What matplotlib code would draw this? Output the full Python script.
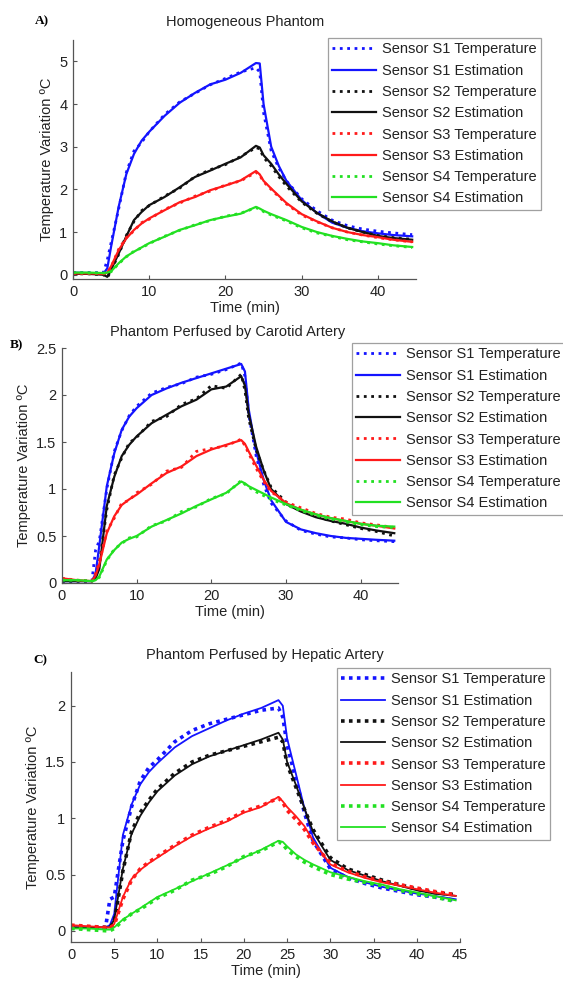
import matplotlib
matplotlib.use("Agg")
import matplotlib.pyplot as plt

plt.rcParams['font.family'] = ['Liberation Sans', 'DejaVu Sans']

# ---------------- data ----------------
t = [0, 2, 4, 4.5, 5, 6, 7, 8, 9, 10, 12, 14, 16, 18, 20, 22, 24, 24.5, 25, 26, 27, 28, 30, 32, 34, 36, 38, 40, 42, 44.5]

# Panel A: Homogeneous Phantom
a_s1_est = [0.05, 0.04, 0.03, 0.15, 0.66, 1.6, 2.36, 2.83, 3.14, 3.35, 3.72, 4.03, 4.26, 4.46, 4.57, 4.73, 4.96, 4.95, 4.0, 3.0, 2.55, 2.2, 1.75, 1.45, 1.22, 1.1, 1.02, 0.97, 0.93, 0.9]
a_s1_tmp = [0.05, 0.05, 0.05, 0.35, 0.75, 1.55, 2.4, 2.9, 3.1, 3.35, 3.75, 4.05, 4.25, 4.45, 4.6, 4.75, 4.85, 4.75, 3.8, 2.9, 2.5, 2.2, 1.78, 1.5, 1.28, 1.15, 1.07, 1.02, 0.98, 0.94]
a_s2_est = [0.02, 0.02, 0.0, -0.05, 0.12, 0.5, 0.9, 1.28, 1.47, 1.63, 1.82, 2.05, 2.29, 2.44, 2.6, 2.75, 3.02, 2.98, 2.8, 2.6, 2.35, 2.13, 1.72, 1.45, 1.25, 1.1, 1.0, 0.91, 0.86, 0.82]
a_s2_tmp = [0.02, 0.02, 0.0, -0.07, 0.1, 0.48, 0.92, 1.25, 1.5, 1.62, 1.84, 2.03, 2.3, 2.46, 2.58, 2.77, 2.98, 2.95, 2.75, 2.55, 2.3, 2.08, 1.7, 1.44, 1.24, 1.1, 1.0, 0.92, 0.87, 0.83]
a_s3_est = [0.03, 0.03, 0.02, 0.05, 0.2, 0.58, 0.85, 1.05, 1.2, 1.32, 1.51, 1.7, 1.82, 1.98, 2.09, 2.21, 2.43, 2.35, 2.2, 2.02, 1.85, 1.68, 1.42, 1.25, 1.1, 1.0, 0.93, 0.88, 0.82, 0.77]
a_s3_tmp = [0.03, 0.03, 0.02, 0.04, 0.18, 0.6, 0.87, 1.03, 1.22, 1.3, 1.53, 1.68, 1.84, 1.96, 2.1, 2.2, 2.4, 2.33, 2.18, 2.0, 1.83, 1.66, 1.4, 1.24, 1.1, 1.0, 0.93, 0.87, 0.82, 0.77]
a_s4_est = [0.05, 0.05, 0.04, 0.05, 0.08, 0.27, 0.43, 0.54, 0.64, 0.74, 0.89, 1.05, 1.16, 1.28, 1.36, 1.43, 1.59, 1.55, 1.5, 1.42, 1.35, 1.28, 1.12, 1.0, 0.91, 0.84, 0.78, 0.74, 0.69, 0.65]
a_s4_tmp = [0.05, 0.04, 0.04, 0.04, 0.07, 0.26, 0.42, 0.55, 0.63, 0.73, 0.9, 1.04, 1.17, 1.27, 1.37, 1.44, 1.57, 1.54, 1.48, 1.4, 1.33, 1.26, 1.1, 0.98, 0.9, 0.82, 0.77, 0.72, 0.68, 0.64]

# Panel B: Phantom Perfused by Carotid Artery
b_s1_est = [0.02, 0.02, 0.02, 0.1, 0.4, 1.03, 1.38, 1.63, 1.77, 1.86, 2.0, 2.07, 2.13, 2.18, 2.23, 2.28, 2.33, 2.25, 1.85, 1.4, 1.1, 0.88, 0.65, 0.57, 0.53, 0.5, 0.48, 0.47, 0.46, 0.45]
b_s1_tmp = [0.02, 0.02, 0.02, 0.35, 0.45, 1.0, 1.4, 1.62, 1.78, 1.88, 2.02, 2.08, 2.12, 2.19, 2.22, 2.27, 2.34, 2.2, 1.8, 1.35, 1.05, 0.85, 0.66, 0.56, 0.52, 0.49, 0.48, 0.46, 0.45, 0.44]
b_s2_est = [0.02, 0.02, 0.02, 0.05, 0.15, 0.82, 1.13, 1.35, 1.47, 1.56, 1.7, 1.79, 1.88, 1.95, 2.06, 2.09, 2.2, 2.1, 1.8, 1.45, 1.2, 1.0, 0.84, 0.76, 0.7, 0.66, 0.63, 0.59, 0.56, 0.53]
b_s2_tmp = [0.02, 0.02, 0.02, 0.08, 0.2, 0.78, 1.15, 1.33, 1.49, 1.55, 1.72, 1.77, 1.9, 1.96, 2.1, 2.07, 2.22, 2.05, 1.75, 1.42, 1.2, 1.02, 0.86, 0.77, 0.71, 0.66, 0.62, 0.58, 0.55, 0.5]
b_s3_est = [0.05, 0.03, 0.02, 0.08, 0.2, 0.53, 0.71, 0.83, 0.89, 0.94, 1.06, 1.17, 1.24, 1.35, 1.42, 1.47, 1.52, 1.48, 1.4, 1.25, 1.1, 0.98, 0.85, 0.78, 0.73, 0.69, 0.66, 0.63, 0.61, 0.58]
b_s3_tmp = [0.05, 0.03, 0.02, 0.1, 0.22, 0.55, 0.69, 0.85, 0.88, 0.96, 1.05, 1.19, 1.23, 1.4, 1.43, 1.46, 1.53, 1.46, 1.38, 1.22, 1.08, 0.97, 0.86, 0.8, 0.74, 0.7, 0.68, 0.64, 0.62, 0.59]
b_s4_est = [0.03, 0.03, 0.02, 0.03, 0.07, 0.25, 0.35, 0.43, 0.47, 0.5, 0.6, 0.67, 0.74, 0.82, 0.89, 0.96, 1.08, 1.06, 1.03, 0.99, 0.95, 0.91, 0.84, 0.78, 0.73, 0.69, 0.66, 0.63, 0.61, 0.6]
b_s4_tmp = [0.03, 0.03, 0.02, 0.03, 0.06, 0.24, 0.36, 0.42, 0.48, 0.49, 0.61, 0.66, 0.76, 0.81, 0.9, 0.95, 1.09, 1.05, 1.02, 0.97, 0.93, 0.89, 0.83, 0.77, 0.72, 0.68, 0.65, 0.62, 0.6, 0.59]

# Panel C: Phantom Perfused by Hepatic Artery
c_s1_est = [0.03, 0.03, 0.03, 0.05, 0.15, 0.85, 1.12, 1.3, 1.41, 1.49, 1.63, 1.73, 1.8, 1.87, 1.93, 1.98, 2.05, 2.0, 1.71, 1.4, 1.09, 0.83, 0.56, 0.48, 0.43, 0.39, 0.36, 0.33, 0.31, 0.28]
c_s1_tmp = [0.03, 0.03, 0.03, 0.28, 0.3, 0.8, 1.1, 1.33, 1.45, 1.52, 1.68, 1.78, 1.84, 1.88, 1.92, 1.96, 1.98, 1.9, 1.65, 1.35, 1.05, 0.8, 0.55, 0.47, 0.42, 0.38, 0.35, 0.32, 0.3, 0.27]
c_s2_est = [0.03, 0.03, 0.03, 0.03, 0.1, 0.55, 0.86, 1.02, 1.14, 1.24, 1.38, 1.48, 1.55, 1.6, 1.65, 1.7, 1.76, 1.7, 1.5, 1.3, 1.09, 0.88, 0.63, 0.54, 0.49, 0.44, 0.4, 0.36, 0.33, 0.31]
c_s2_tmp = [0.03, 0.03, 0.03, 0.03, 0.08, 0.53, 0.88, 1.05, 1.16, 1.26, 1.4, 1.5, 1.56, 1.6, 1.64, 1.68, 1.72, 1.68, 1.48, 1.28, 1.08, 0.9, 0.65, 0.55, 0.5, 0.45, 0.41, 0.37, 0.34, 0.32]
c_s3_est = [0.05, 0.04, 0.03, 0.03, 0.06, 0.3, 0.46, 0.54, 0.6, 0.65, 0.75, 0.84, 0.91, 0.97, 1.05, 1.1, 1.19, 1.15, 1.1, 1.02, 0.93, 0.8, 0.59, 0.52, 0.47, 0.43, 0.4, 0.37, 0.34, 0.31]
c_s3_tmp = [0.05, 0.04, 0.03, 0.03, 0.05, 0.28, 0.45, 0.55, 0.61, 0.66, 0.76, 0.85, 0.92, 0.98, 1.06, 1.11, 1.18, 1.14, 1.07, 0.99, 0.9, 0.78, 0.6, 0.53, 0.48, 0.44, 0.41, 0.38, 0.35, 0.32]
c_s4_est = [0.02, 0.02, 0.01, 0.01, 0.03, 0.1, 0.15, 0.2, 0.25, 0.3, 0.37, 0.44, 0.51, 0.58, 0.65, 0.72, 0.8, 0.79, 0.75, 0.68, 0.63, 0.59, 0.52, 0.48, 0.44, 0.41, 0.37, 0.34, 0.31, 0.27]
c_s4_tmp = [0.02, 0.01, 0.0, 0.0, 0.02, 0.09, 0.15, 0.19, 0.24, 0.29, 0.36, 0.45, 0.5, 0.57, 0.66, 0.71, 0.79, 0.77, 0.72, 0.66, 0.61, 0.57, 0.5, 0.46, 0.43, 0.4, 0.36, 0.33, 0.3, 0.26]

labels = ["Sensor S1 Temperature", "Sensor S1 Estimation",
          "Sensor S2 Temperature", "Sensor S2 Estimation",
          "Sensor S3 Temperature", "Sensor S3 Estimation",
          "Sensor S4 Temperature", "Sensor S4 Estimation"]
titles = ["Homogeneous Phantom", "Phantom Perfused by Carotid Artery", "Phantom Perfused by Hepatic Artery"]
panel_tags = ["A)", "B)", "C)"]

colors = ['#1414ff', '#111111', '#ff1a1a', '#22e022']

FS = 10.5
W, H = 563, 981
fig = plt.figure(figsize=(W / 100, H / 100), dpi=100)


def px_axes(l, r, top, bot):
    return fig.add_axes([l / W, 1 - bot / H, (r - l) / W, (bot - top) / H])


def style(ax, xlim, ylim, xticks, yticks):
    ax.set_xlim(*xlim)
    ax.set_ylim(*ylim)
    ax.set_xticks(xticks)
    ax.set_yticks(yticks)
    ax.set_yticklabels(['%g' % v for v in yticks])
    for s in ['top', 'right']:
        ax.spines[s].set_visible(False)
    for s in ['left', 'bottom']:
        ax.spines[s].set_color('#555555')
        ax.spines[s].set_linewidth(0.9)
    ax.tick_params(direction='in', length=3, width=0.8, colors='#555555',
                   labelcolor='#222222', labelsize=FS, pad=4)
    ax.set_xlabel("Time (min)", fontsize=FS, color='#222222', labelpad=2)
    ax.set_ylabel("Temperature Variation ºC", fontsize=FS, color='#222222', labelpad=4)


def draw(ax, tmp_list, est_list, lw_tmp, lw_est, ls_tmp):
    handles = []
    for c, m, e in zip(colors, tmp_list, est_list):
        h1, = ax.plot(t, m, linestyle=ls_tmp, color=c, lw=lw_tmp)
        h2, = ax.plot(t, e, linestyle='-', color=c, lw=lw_est)
        handles += [h1, h2]
    return handles


def legend(handles, x, y):
    leg = fig.legend(handles, labels, loc='upper left', bbox_to_anchor=(x / W, 1 - y / H),
                     fontsize=FS, frameon=True, fancybox=False, handlelength=3.0,
                     borderpad=0.3, labelspacing=0.5, handletextpad=0.4, borderaxespad=0)
    leg.get_frame().set_edgecolor('#888888')
    leg.get_frame().set_linewidth(0.9)
    for txt in leg.get_texts():
        txt.set_color('#222222')
    return leg


# Panel A
axA = px_axes(73, 416, 40, 279)
hA = draw(axA, [a_s1_tmp, a_s2_tmp, a_s3_tmp, a_s4_tmp],
          [a_s1_est, a_s2_est, a_s3_est, a_s4_est], 2.0, 1.6, ':')
style(axA, (0, 45), (-0.1, 5.5), [0, 10, 20, 30, 40], [0, 1, 2, 3, 4, 5])
legend(hA, 328, 38)
fig.text(245 / W, 1 - 22 / H, titles[0], ha='center', va='center', fontsize=FS, color='#222222')
fig.text(35 / W, 1 - 21 / H, panel_tags[0], ha='left', va='center', fontsize=9.5,
         fontweight='bold', family='Liberation Serif')

# Panel B
axB = px_axes(62, 398, 348, 583)
hB = draw(axB, [b_s1_tmp, b_s2_tmp, b_s3_tmp, b_s4_tmp],
          [b_s1_est, b_s2_est, b_s3_est, b_s4_est], 2.0, 1.6, ':')
style(axB, (0, 45), (0, 2.5), [0, 10, 20, 30, 40], [0, 0.5, 1, 1.5, 2, 2.5])
legend(hB, 352, 343)
fig.text(228 / W, 1 - 332 / H, titles[1], ha='center', va='center', fontsize=FS, color='#222222')
fig.text(10 / W, 1 - 345 / H, panel_tags[1], ha='left', va='center', fontsize=9.5,
         fontweight='bold', family='Liberation Serif')

# Panel C
axC = px_axes(71, 460, 672, 942)
hC = draw(axC, [c_s1_tmp, c_s2_tmp, c_s3_tmp, c_s4_tmp],
          [c_s1_est, c_s2_est, c_s3_est, c_s4_est], 2.6, 1.3, (0, (1, 1.2)))
style(axC, (0, 45), (-0.1, 2.3), list(range(0, 50, 5)), [0, 0.5, 1, 1.5, 2])
legend(hC, 337, 668)
fig.text(265 / W, 1 - 655 / H, titles[2], ha='center', va='center', fontsize=FS, color='#222222')
fig.text(33 / W, 1 - 660 / H, panel_tags[2], ha='left', va='center', fontsize=9.5,
         fontweight='bold', family='Liberation Serif')

fig.savefig("out.png", dpi=100)
